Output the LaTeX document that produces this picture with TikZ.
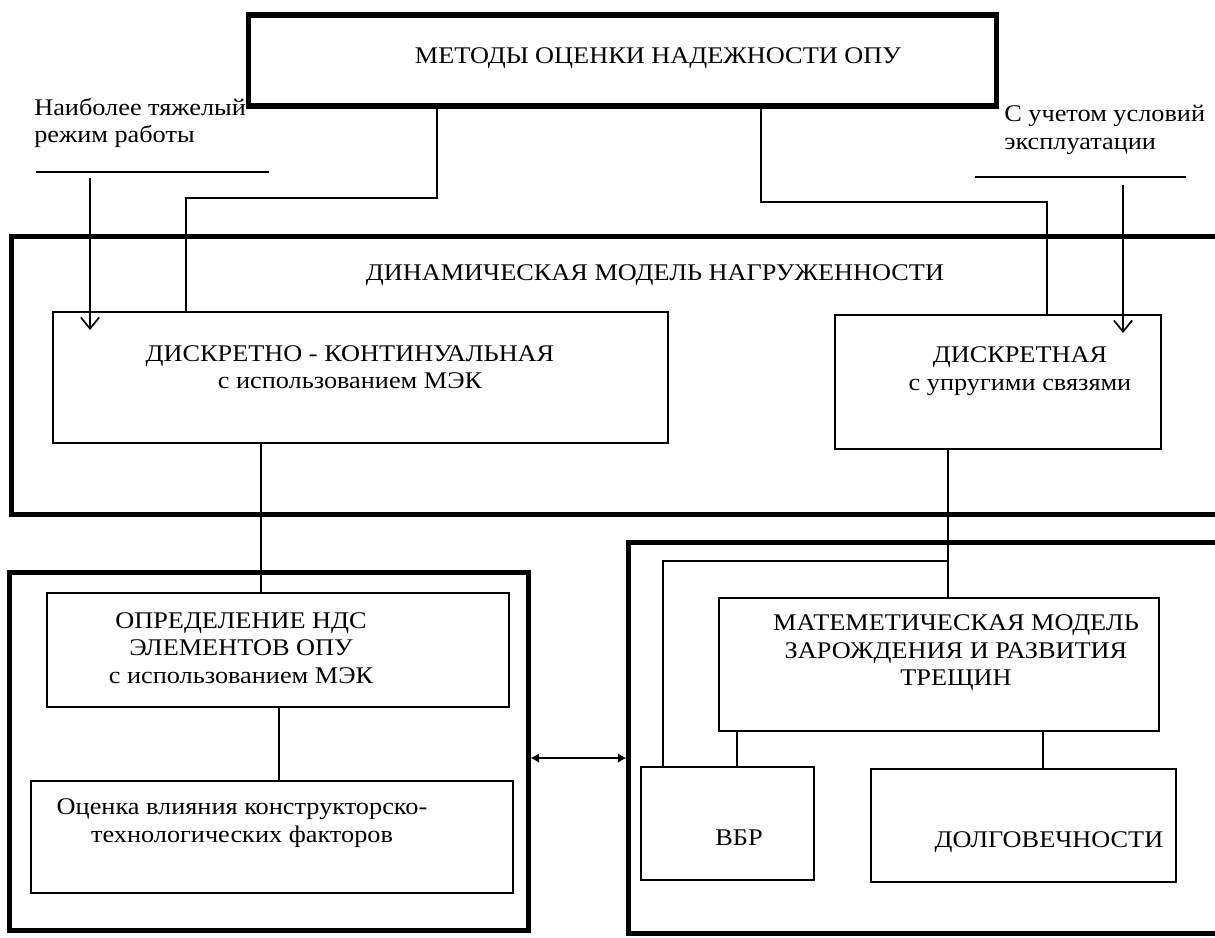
\documentclass[tikz,border=0pt]{standalone}
\usepackage{fontspec}
\setmainfont{Liberation Serif}[FakeStretch=1.1]
\usetikzlibrary{arrows.meta}
\begin{document}
\begin{tikzpicture}[x=0.025cm,y=-0.025cm,
  box/.style={draw,rectangle,line width=1.2pt},
  frame/.style={draw,rectangle,line width=3.6pt},
  txt/.style={inner sep=0pt,align=center},
  link/.style={line width=1.2pt},
  >={Straight Barb[length=8pt,width=13pt]},
  font=\fontsize{17}{19.5}\selectfont]
\useasboundingbox (0,0) rectangle (1215,938);
\clip (0,0) rectangle (1215,938);
% frames
\node[frame,minimum width=18.675cm,minimum height=2.275cm] (meth) at (622.5,60.5) {};
\node[frame,minimum width=30.7cm,minimum height=6.925cm] (dyn) at (626,375.5) {};
\node[frame,minimum width=12.95cm,minimum height=8.925cm] (ndsf) at (269,751.5) {};
\node[frame,minimum width=15.275cm,minimum height=9.75cm] (crf) at (934.5,738) {};
% boxes
\node[box,minimum width=15.375cm,minimum height=3.275cm] (dk) at (360.5,377.5) {};
\node[box,minimum width=8.15cm,minimum height=3.35cm] (dis) at (998,382) {};
\node[box,minimum width=11.55cm,minimum height=2.85cm] (opr) at (278,650) {};
\node[box,minimum width=12.05cm,minimum height=2.8cm] (ots) at (272,837) {};
\node[box,minimum width=11cm,minimum height=3.325cm] (mat) at (939,664.5) {};
\node[box,minimum width=4.325cm,minimum height=2.825cm] (vbr) at (727.5,823.5) {};
\node[box,minimum width=7.625cm,minimum height=2.825cm] (dol) at (1023.5,825.5) {};
% texts
\node[txt] (methT) at (658,58) {МЕТОДЫ ОЦЕНКИ НАДЕЖНОСТИ ОПУ};
\node[txt] (dynT) at (655,275) {ДИНАМИЧЕСКАЯ МОДЕЛЬ НАГРУЖЕННОСТИ};
\node[txt] (dkT) at (350,367) {ДИСКРЕТНО - КОНТИНУАЛЬНАЯ\\с использованием МЭК};
\node[txt] (disT) at (1020,371) {ДИСКРЕТНАЯ\\с упругими связями};
\node[txt] (oprT) at (241,648) {ОПРЕДЕЛЕНИЕ НДС\\ЭЛЕМЕНТОВ ОПУ\\с использованием МЭК};
\node[txt] (otsT) at (242,823) {Оценка влияния конструкторско-\\технологических факторов};
\node[txt] (matT) at (956,653) {МАТЕМЕТИЧЕСКАЯ МОДЕЛЬ\\ЗАРОЖДЕНИЯ И РАЗВИТИЯ\\ТРЕЩИН};
\node[txt] (vbrT) at (739,838) {ВБР};
\node[txt] (dolT) at (1049,842) {ДОЛГОВЕЧНОСТИ};
\node[txt,align=left,anchor=west] (hvy) at (34,123) {Наиболее тяжелый\\режим работы};
\node[txt,align=left,anchor=west] (cond) at (1004,130) {С учетом условий\\ эксплуатации};
\draw[link] (36,172) -- (269,172);
\draw[link] (975,177) -- (1186,177);
% connectors
\coordinate (j1) at (437,198);
\coordinate (j2) at (186,198);
\coordinate (j3) at (761,202);
\coordinate (j4) at (1047,202);
\coordinate (j5) at (261,500);
\coordinate (j6) at (279,750);
\coordinate (j7) at (948,561);
\coordinate (j8) at (663,561);
\coordinate (j9) at (737,750);
\coordinate (j10) at (1043,750);
\coordinate (j11) at (580,758);
\coordinate (hvA) at (90,178);
\coordinate (hvB) at (90,330);
\coordinate (cdA) at (1123,185);
\coordinate (cdB) at (1123,333);
\draw[link] (meth.south -| j1) -- (j1) -- (j2) -- (dk.north -| j2);
\draw[link] (meth.south -| j3) -- (j3) -- (j4) -- (dis.north -| j4);
\draw[link] (dk.south -| j5) -- (opr.north -| j5);
\draw[link] (opr.south -| j6) -- (ots.north -| j6);
\draw[link] (dis.south -| j7) -- (mat.north -| j7);
\draw[link] (j7) -- (j8) -- (vbr.north -| j8);
\draw[link] (mat.south -| j9) -- (vbr.north -| j9);
\draw[link] (mat.south -| j10) -- (dol.north -| j10);
\draw[link,->] (hvA) -- (hvB);
\draw[link,->] (cdA) -- (cdB);
\draw[link,{Latex[length=6pt,width=7pt]}-{Latex[length=6pt,width=7pt]}] (ndsf.east |- j11) -- (crf.west |- j11);
\end{tikzpicture}
\end{document}
